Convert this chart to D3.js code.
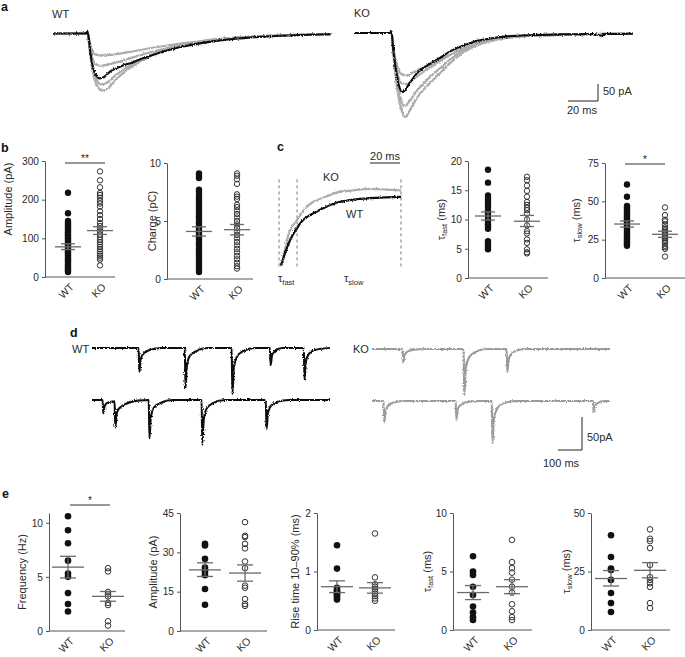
<!DOCTYPE html>
<html><head><meta charset="utf-8">
<script src="https://cdn.jsdelivr.net/npm/d3@7"></script>
<style>
body{margin:0;background:#fff}
svg{display:block}
text{font-family:"Liberation Sans",Arial,Helvetica,sans-serif}
</style>
</head><body>
<svg id="fig" width="685" height="657"></svg>
<script>
// ---------------- DATA ----------------
// Panel a: evoked currents, [time ms, current pA]
const aWTmean = [[0,0],[22,0],[23,6],[24,-20],[25,-60],[27,-105],[29,-125],[31,-132],[34,-128],[38,-112],[45,-97],[53,-85],[60,-73],[70,-58],[76,-50],[85,-40],[98,-29],[110,-21],[120,-16],[131,-12],[145,-8],[160,-5],[185,-2]];
const aWTgray1 = [[0,0],[22,0],[23,6],[24,-30],[26,-100],[29,-150],[33,-168],[37,-160],[42,-135],[50,-105],[60,-78],[70,-56],[80,-40],[90,-30],[100,-22],[115,-15],[130,-10],[150,-6],[185,-2]];
const aWTgray2 = [[0,0],[22,0],[23,5],[24,-25],[26,-90],[29,-135],[32,-150],[36,-145],[42,-122],[50,-98],[60,-74],[70,-55],[80,-40],[90,-30],[100,-22],[115,-15],[130,-10],[150,-6],[185,-2]];
const aWTgray3 = [[0,0],[22,0],[23,5],[24,-20],[26,-70],[29,-92],[32,-95],[38,-90],[45,-82],[55,-68],[65,-55],[75,-44],[85,-35],[100,-25],[115,-17],[130,-11],[150,-7],[185,-2]];
const aWTgray4 = [[0,0],[22,0],[23,5],[24,-15],[26,-50],[29,-63],[33,-65],[40,-62],[50,-55],[60,-47],[75,-36],[90,-27],[100,-22],[115,-15],[130,-10],[150,-6],[185,-2]];
const aKOmean = [[0,0],[24,0],[25,4],[26,-40],[28,-110],[30,-155],[32,-174],[34,-168],[37,-148],[42,-118],[50,-92],[57,-74],[65,-52],[72,-38],[79,-27],[90,-17],[102,-10],[120,-6],[140,-4],[160,-3],[165,-8],[168,-3],[186,-2]];
const aKOgray1 = [[0,0],[24,0],[25,5],[26,-50],[29,-170],[32,-230],[34,-247],[37,-230],[42,-190],[50,-150],[57,-120],[65,-85],[72,-60],[80,-40],[90,-25],[102,-14],[120,-8],[140,-5],[186,-2]];
const aKOgray2 = [[0,0],[24,0],[25,5],[26,-45],[29,-150],[32,-205],[34,-215],[37,-200],[42,-170],[50,-132],[57,-105],[65,-75],[72,-53],[80,-36],[90,-22],[102,-13],[120,-8],[140,-5],[186,-2]];
const aKOgray3 = [[0,0],[24,0],[25,4],[26,-40],[29,-120],[32,-148],[35,-150],[39,-138],[45,-118],[52,-97],[60,-75],[68,-55],[76,-40],[85,-27],[95,-17],[110,-10],[130,-6],[186,-2]];
const aKOgray4 = [[0,0],[24,0],[25,4],[26,-35],[29,-100],[32,-122],[35,-125],[40,-115],[47,-100],[55,-84],[63,-66],[72,-48],[82,-32],[95,-19],[110,-10],[130,-6],[186,-2]];

// Panel b
const groups = ["WT","KO"];
const bAmpWT = [218,165,145,140,136,132,128,124,120,116,112,108,104,100,96,92,88,84,80,76,72,68,64,60,56,52,48,44,40,36,32,28,24,20,16,13];
const bAmpKO = [273,250,232,217,212,205,197,190,182,170,160,150,140,132,125,117,110,103,96,90,84,78,72,66,60,55,50,45,30];
const bAmpStats = {WT:[78,71,86], KO:[120,110,130]};
const bChgWT = [9.1,8.9,8.7,7.7,7.5,7.2,7.0,6.8,6.6,6.4,6.2,6.0,5.8,5.6,5.4,5.2,5.0,4.8,4.6,4.4,4.2,4.0,3.8,3.6,3.4,3.2,3.0,2.8,2.6,2.4,2.2,2.0,1.8,1.6,1.4,1.2,1.0,0.8,0.6];
const bChgKO = [9.1,8.9,8.6,8.2,7.3,7.1,6.9,6.4,6.2,5.9,5.6,5.3,5.0,4.7,4.4,4.1,3.8,3.5,3.2,2.9,2.6,2.3,2.0,1.7,1.4,1.1,0.9];
const bChgStats = {WT:[4.1,3.7,4.5], KO:[4.25,3.8,4.7]};

// Panel c: normalized decay, [time ms, normalized]
const cWT = [[0,0],[3,0.18],[6,0.33],[10.7,0.49],[14.7,0.59],[20,0.66],[26,0.72],[37,0.81],[48,0.85],[59,0.87],[70,0.88],[80,0.885]];
const cKO = [[0,0],[2,0.15],[4.5,0.37],[10.7,0.59],[17.3,0.76],[21.3,0.82],[30,0.89],[37,0.94],[48,0.97],[59,0.99],[70,0.98],[80,0.97]];
const cTauMarks = [-1.3, 10.7, 80];
const cFastWT = [18.5,16.3,14.1,13.6,13.2,12.8,12.4,12.0,11.5,11.0,10.5,10.0,9.6,9.2,8.8,8.4,6.3,6.0,5.6,5.2,4.9];
const cFastKO = [17.3,16.7,15.8,14.9,13.9,13.0,12.5,12.0,11.6,11.0,10.0,9.0,8.0,7.6,6.6,6.0,4.9,4.4,4.2];
const cFastStats = {WT:[10.6,9.9,11.3], KO:[9.7,8.8,10.7]};
const cSlowWT = [61,53,47,46,45,44,43,42,41,40,39,38,37,36,35,34,33,32,31,30,29,28,27,26,25,24,23,22,21];
const cSlowKO = [46,41,38,37,35,33,32,31,30,29,28,27,26,25,24,23,21,20,19,14];
const cSlowStats = {WT:[35.2,33.2,37.2], KO:[28.5,26.5,30.5]};

// Panel d: spontaneous currents, [time ms, pA]
const dWT1 = [[0,0],[194,0],[197,-36],[203,-16],[215,-8],[240,-3],[290,0],[386,0],[389,-61],[395,-26],[407,-12],[432,-5],[480,0],[581,0],[584,-70],[590,-30],[602,-14],[627,-5],[680,0],[740,0],[743,-26],[749,-11],[761,-5],[790,0],[881,0],[884,-48],[890,-20],[902,-9],[927,-3],[990,0]];
const dWT2 = [[0,0],[44,0],[47,-20],[53,-9],[65,-4],[94,-2],[97,-42],[103,-20],[115,-12],[140,-6],[190,-1],[236,0],[239,-58],[245,-25],[257,-12],[282,-5],[335,0],[456,0],[459,-68],[465,-29],[477,-13],[502,-5],[555,0],[723,0],[726,-44],[732,-19],[744,-9],[769,-3],[820,0],[990,0]];
const dKO1 = [[0,0],[127,0],[130,-20],[136,-9],[148,-4],[175,-1],[220,0],[381,0],[384,-70],[390,-30],[402,-14],[427,-5],[480,0],[560,0],[563,-35],[569,-15],[581,-7],[606,-2],[650,0],[990,0]];
const dKO2 = [[0,0],[48,0],[51,-32],[57,-14],[69,-6],[94,-2],[140,0],[348,0],[351,-29],[357,-12],[369,-6],[394,-2],[440,0],[498,0],[501,-64],[507,-27],[519,-13],[544,-4],[600,0],[919,0],[922,-17],[928,-7],[940,-3],[965,0],[990,0]];

// Panel e
const eFreqWT = [10.6,9.3,8.1,6.5,5.3,5.0,3.5,2.5,1.8];
const eFreqKO = [5.8,5.5,3.6,3.4,3.2,2.6,2.4,0.9,0.5];
const eFreqStats = {WT:[5.9,4.9,6.9], KO:[3.2,2.75,3.65]};
const eAmpWT = [33.3,32.6,27.5,24.2,23.2,22.6,21.3,16,10];
const eAmpKO = [41.5,36.3,35.8,33.2,31.5,26.5,24,17.3,16.5,12.2,10.3,9.6];
const eAmpStats = {WT:[23.3,20.8,26], KO:[22.1,19,25.2]};
const eRiseWT = [1.45,1.05,0.72,0.68,0.66,0.63,0.61,0.58,0.55,0.52];
const eRiseKO = [1.65,0.9,0.78,0.74,0.7,0.66,0.62,0.58,0.54,0.5];
const eRiseStats = {WT:[0.74,0.64,0.84], KO:[0.72,0.63,0.81]};
const eFastWT = [6.3,5.0,4.7,3.7,3.0,2.0,1.5,1.1,0.85];
const eFastKO = [7.7,5.8,5.3,4.9,4.3,3.7,3.2,2.2,1.6,1.1,0.85];
const eFastStats = {WT:[3.2,2.6,3.8], KO:[3.7,3.1,4.3]};
const eSlowWT = [40.5,31.2,26.3,25.6,21.4,15.8,11.5,7.7];
const eSlowKO = [43,39,38,35,27.8,22.6,21.4,20,18.4,11.5,9.4];
const eSlowStats = {WT:[22,18.8,25.4], KO:[25.5,22.3,28.8]};

// ---------------- DRAW ----------------
const svg = d3.select("#fig");
svg.append("rect").attr("width",685).attr("height",657).attr("fill","#fff");
const FONT = '"Liberation Sans",Arial,sans-serif';
const AX = "#555", TX = "#2a2a2a";

// recording-noise look for traces (rendering style only)
const defs = svg.append("defs");
const flt = defs.append("filter").attr("id","noisy").attr("filterUnits","userSpaceOnUse")
  .attr("x",0).attr("y",0).attr("width",685).attr("height",657);
flt.append("feTurbulence").attr("type","fractalNoise").attr("baseFrequency","0.9 0.6").attr("numOctaves",2).attr("seed",3).attr("result","n");
flt.append("feDisplacementMap").attr("in","SourceGraphic").attr("in2","n").attr("scale",2.8)
  .attr("xChannelSelector","R").attr("yChannelSelector","G");

function panelLabel(t,x,y){
  svg.append("text").attr("x",x).attr("y",y).attr("font-size","12.5px").attr("font-weight","bold").attr("fill","#111").text(t);
}
function txt(t,x,y,opt={}){
  return svg.append("text").attr("x",x).attr("y",y).attr("font-size",opt.size||"11px")
    .attr("fill",opt.fill||TX).attr("text-anchor",opt.anchor||"start").text(t);
}
function trace(data,xs,ys,color,w,noisy=true){
  const line = d3.line().x(d=>xs(d[0])).y(d=>ys(d[1])).curve(d3.curveMonotoneX);
  const p = svg.append("path").datum(data).attr("d",line).attr("fill","none")
    .attr("stroke",color).attr("stroke-width",w).attr("stroke-linejoin","round");
  if(noisy) p.attr("filter","url(#noisy)");
}

// ---- Panel a ----
panelLabel("a",1,11);
const xAW = d3.scaleLinear().domain([0,185]).range([53,330.5]);
const xAK = d3.scaleLinear().domain([0,186]).range([354,633]);
const yAW = d3.scaleLinear().domain([0,-50]).range([33.5,50.5]);
const yAK = d3.scaleLinear().domain([0,-50]).range([33,50]);
txt("WT",52,18);
txt("KO",354,17);
[aWTgray1,aWTgray2,aWTgray3,aWTgray4].forEach(t=>trace(t,xAW,yAW,"#acacac",2.2));
trace(aWTmean,xAW,yAW,"#111",2.1);
[aKOgray1,aKOgray2,aKOgray3,aKOgray4].forEach(t=>trace(t,xAK,yAK,"#acacac",2.2));
trace(aKOmean,xAK,yAK,"#111",2.1);
// scale bar a
{
  const cx=598, cy=101;
  const h = yAK(-50)-yAK(0), w = xAK(20)-xAK(0);
  svg.append("path").attr("d",`M${cx},${cy-h}V${cy}H${cx-w}`).attr("fill","none").attr("stroke","#222").attr("stroke-width",1);
  txt("50 pA",603,95);
  txt("20 ms",567,114);
}

// ---- Scatter panels ----
function scatter(c){
  const y = d3.scaleLinear().domain([0,c.max]).range([c.y0,c.yTop]);
  const x = d3.scalePoint().domain(groups).range([c.xWT,c.xKO]);
  const g = svg.append("g");
  const ax = g.append("g").attr("transform",`translate(${c.ax},0)`)
    .call(d3.axisLeft(y).tickValues(c.ticks).tickFormat(d3.format("~g")).tickSize(3).tickSizeOuter(0).tickPadding(3));
  ax.select(".domain").attr("stroke",AX);
  ax.selectAll(".tick line").attr("stroke",AX);
  ax.selectAll(".tick text").attr("fill",TX).attr("font-size","10.2px").attr("font-family",FONT);
  g.append("line").attr("x1",c.ax).attr("x2",c.xEnd).attr("y1",c.y0).attr("y2",c.y0).attr("stroke",AX);
  groups.forEach(k=>{
    g.append("text").attr("transform",`translate(${x(k)+4},${c.y0+8}) rotate(-45)`)
      .attr("text-anchor","end").attr("dy","0.35em").attr("font-size","10.5px").attr("fill",TX).text(k);
  });
  // y label
  const lab = g.append("text").attr("transform",`translate(${c.ax+c.labDx},${c.labY!==undefined?c.labY:(c.y0+c.yTop)/2}) rotate(-90)`)
    .attr("text-anchor","middle").attr("dy","0.35em").attr("font-size","11px").attr("fill",TX);
  if(c.tau){
    lab.append("tspan").text("τ");
    lab.append("tspan").attr("dy","2.5").attr("font-size","7.5px").text(c.tau);
    lab.append("tspan").attr("dy","-2.5").text(" (ms)");
  } else lab.text(c.label);
  // points
  g.selectAll(".wt").data(c.wt).join("circle").attr("cx",x("WT")).attr("cy",d=>y(d)).attr("r",c.r||3.2).attr("fill","#111");
  g.selectAll(".ko").data(c.ko).join("circle").attr("cx",x("KO")).attr("cy",d=>y(d)).attr("r",(c.r||3.2)-0.5)
    .attr("fill","none").attr("stroke","#333").attr("stroke-width",1);
  // mean & sem
  groups.forEach(k=>{
    const s = c.stats[k], cx = x(k);
    g.append("line").attr("x1",cx-c.mw).attr("x2",cx+c.mw).attr("y1",y(s[0])).attr("y2",y(s[0])).attr("stroke","#6a6a6a").attr("stroke-width",1.3);
    [s[1],s[2]].forEach(v=>g.append("line").attr("x1",cx-c.sw).attr("x2",cx+c.sw).attr("y1",y(v)).attr("y2",y(v)).attr("stroke","#6a6a6a").attr("stroke-width",1.3));
    g.append("line").attr("x1",cx).attr("x2",cx).attr("y1",y(s[1])).attr("y2",y(s[2])).attr("stroke","#6a6a6a").attr("stroke-width",1.3);
  });
  if(c.sig){
    g.append("line").attr("x1",c.sig[0]).attr("x2",c.sig[1]).attr("y1",c.sig[2]).attr("y2",c.sig[2]).attr("stroke","#333");
    g.append("text").attr("x",(c.sig[0]+c.sig[1])/2).attr("y",c.sig[2]-1).attr("text-anchor","middle").attr("font-size","10px").attr("fill","#222").text(c.sig[3]);
  }
}

panelLabel("b",1,152);
scatter({ax:45,y0:277,yTop:161,max:300,ticks:[0,100,200,300],xWT:68,xKO:100,xEnd:115,wt:bAmpWT,ko:bAmpKO,stats:bAmpStats,label:"Amplitude (pA)",labDx:-37,labY:199,mw:13,sw:7,sig:[65,105,163,"**"]});
scatter({ax:167,y0:279,yTop:163,max:10,ticks:[0,5,10],xWT:199,xKO:237,xEnd:253,wt:bChgWT,ko:bChgKO,stats:bChgStats,label:"Charge (pC)",labDx:-15,mw:13,sw:7});

// ---- Panel c traces ----
panelLabel("c",277,151);
const xC = d3.scaleLinear().domain([0,80]).range([281,401]);
const yC = d3.scaleLinear().domain([0,1]).range([266,188]);
cTauMarks.forEach(t=>{
  svg.append("line").attr("x1",xC(t)).attr("x2",xC(t)).attr("y1",yC(1.11)).attr("y2",yC(-0.01))
    .attr("stroke","#777").attr("stroke-width",1).attr("stroke-dasharray","3,3");
});
trace(cKO,xC,yC,"#acacac",2.2);
trace(cWT,xC,yC,"#111",2.2);
txt("KO",323,181);
txt("WT",346,218);
{
  const w = xC(20)-xC(0);
  svg.append("line").attr("x1",400-w).attr("x2",400).attr("y1",163).attr("y2",163).attr("stroke","#222");
  txt("20 ms",385,160,{anchor:"middle"});
  const t1 = svg.append("text").attr("x",278).attr("y",282).attr("font-size","11px").attr("fill",TX);
  t1.append("tspan").text("τ"); t1.append("tspan").attr("dy","2.5").attr("font-size","7.5px").text("fast");
  const t2 = svg.append("text").attr("x",344).attr("y",282).attr("font-size","11px").attr("fill",TX);
  t2.append("tspan").text("τ"); t2.append("tspan").attr("dy","2.5").attr("font-size","7.5px").text("slow");
}
scatter({ax:468,y0:278,yTop:161,max:20,ticks:[0,5,10,15,20],xWT:488,xKO:527,xEnd:548,wt:cFastWT,ko:cFastKO,stats:cFastStats,tau:"fast",labDx:-27,mw:13,sw:7});
scatter({ax:605,y0:278,yTop:163,max:75,ticks:[0,25,50,75],xWT:627,xKO:665,xEnd:685,wt:cSlowWT,ko:cSlowKO,stats:cSlowStats,tau:"slow",labDx:-29,mw:13,sw:7,sig:[625,665,164,"*"]});

// ---- Panel d ----
panelLabel("d",70,337);
txt("WT",72,353);
txt("KO",353,353);
const xDW = d3.scaleLinear().domain([0,990]).range([92,330]);
const xDK = d3.scaleLinear().domain([0,990]).range([372,610]);
const yD = base => d3.scaleLinear().domain([0,-50]).range([base,base+33]);
trace(dWT1,xDW,yD(348),"#111",2.1);
trace(dWT2,xDW,yD(400),"#111",2.1);
trace(dKO1,xDK,yD(349),"#9b9b9b",2.1);
trace(dKO2,xDK,yD(401),"#9b9b9b",2.1);
{
  const ys = yD(0), h = ys(-50)-ys(0), w = xDK(100)-xDK(0);
  const cx=582, cy=450;
  svg.append("path").attr("d",`M${cx},${cy-h}V${cy}H${cx-w}`).attr("fill","none").attr("stroke","#222");
  txt("50pA",587,441);
  txt("100 ms",543,467);
}

// ---- Panel e ----
panelLabel("e",2,498);
scatter({ax:49,y0:631,yTop:513,max:10.9,ticks:[0,5,10],xWT:68,xKO:108,xEnd:125,wt:eFreqWT,ko:eFreqKO,stats:eFreqStats,label:"Frequency (Hz)",labDx:-27,mw:16,sw:8,r:3.3,sig:[70,110,505,"*"]});
scatter({ax:180,y0:631,yTop:513,max:45,ticks:[0,15,30,45],xWT:205,xKO:245,xEnd:267,wt:eAmpWT,ko:eAmpKO,stats:eAmpStats,label:"Amplitude (pA)",labDx:-26.5,mw:16,sw:8,r:3.3});
scatter({ax:317,y0:630,yTop:513,max:2,ticks:[0,1,2],xWT:337,xKO:375,xEnd:395,wt:eRiseWT,ko:eRiseKO,stats:eRiseStats,label:"Rise time 10–90% (ms)",labDx:-22,mw:16,sw:8,r:3.3});
scatter({ax:453,y0:630,yTop:513,max:10,ticks:[0,5,10],xWT:473,xKO:512,xEnd:532,wt:eFastWT,ko:eFastKO,stats:eFastStats,tau:"fast",labDx:-26,mw:16,sw:8,r:3.3});
scatter({ax:591,y0:630,yTop:513,max:50,ticks:[0,25,50],xWT:611,xKO:650,xEnd:670,wt:eSlowWT,ko:eSlowKO,stats:eSlowStats,tau:"slow",labDx:-25,mw:16,sw:8,r:3.3});
</script>
</body></html>
